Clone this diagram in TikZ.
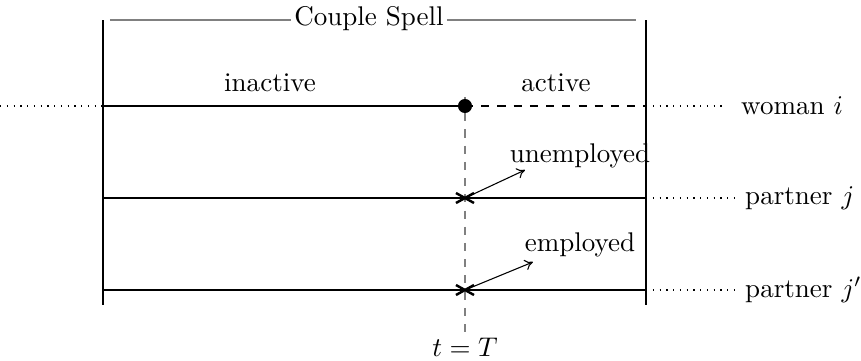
\documentclass[tikz,border=0pt]{standalone}
\usetikzlibrary{arrows.meta,calc}
\begin{document}
\begin{tikzpicture}[x=0.37pt,y=-0.37pt,
  thickline/.style={line width=1.1pt},
  dotline/.style={dotted,line width=0.5pt},
  frame/.style={line width=0.4pt},
  lbl/.style={inner sep=1pt},
  crossmark/.style={line width=0.9pt},
  callout/.style={-{To[length=3pt,width=4pt]},line width=0.4pt}]
\useasboundingbox (0,0) rectangle (861,361);
% frame
\coordinate (TL) at (103,20); \coordinate (BL) at (103,305);
\coordinate (TR) at (646,20); \coordinate (BR) at (646,305);
\draw[frame] (TL) -- (BL);
\draw[frame] (TR) -- (BR);
\node[lbl] (cs) at (369,19) {Couple Spell};
\coordinate (g1) at (110,20); \coordinate (g2) at (636,20);
\draw[gray,line width=0.6pt] (g1) -- (cs.west |- g1);
\draw[gray,line width=0.6pt] (cs.east |- g2) -- (g2);
% T line
\coordinate (Ttop) at (465,97);
\node[lbl] (tT) at (465,347) {$t=T$};
\draw[gray,dashed,line width=0.5pt] (Ttop) -- (tT.north);
% woman
\coordinate (w0) at (0,106); \coordinate (w1) at (103,106);
\coordinate (w3) at (646,106); \coordinate (w4) at (725,106);
\node[circle,fill,inner sep=0pt,minimum size=5.2pt] (wd) at (465,106) {};
\draw[dotline] (w0) -- (w1);
\draw[thickline] (w1) -- (wd.center);
\draw[thickline,dashed] (wd.center) -- (w3);
\draw[dotline] (w3) -- (w4);
\node[lbl,anchor=west] (wl) at (738,106) {woman $i$};
\node[lbl] (inact) at (270,83) {inactive};
\node[lbl] (act) at (556,83) {active};
% partner j
\coordinate (p1) at (103,198); \coordinate (p3) at (646,198); \coordinate (p4) at (735,198);
\coordinate (pc) at (465,198);
\draw[thickline] (p1) -- (p3);
\draw[dotline] (p3) -- (p4);
\node[lbl,anchor=west] (pl) at (742,198) {partner $j$};
\draw[crossmark] ($(pc)+(-9,-5)$) -- ($(pc)+(9,5)$);
\draw[crossmark] ($(pc)+(-9,5)$) -- ($(pc)+(9,-5)$);
\node[lbl] (unemp) at (580,156) {unemployed};
\coordinate (ua) at (525,170);
\draw[callout] (pc) -- (ua);
% partner j'
\coordinate (q1) at (103,290); \coordinate (q3) at (646,290); \coordinate (q4) at (735,290);
\coordinate (qc) at (465,290);
\draw[thickline] (q1) -- (q3);
\draw[dotline] (q3) -- (q4);
\node[lbl,anchor=west] (ql) at (742,290) {partner $j'$};
\draw[crossmark] ($(qc)+(-9,-5)$) -- ($(qc)+(9,5)$);
\draw[crossmark] ($(qc)+(-9,5)$) -- ($(qc)+(9,-5)$);
\node[lbl] (emp) at (580,245) {employed};
\coordinate (ea) at (533,262);
\draw[callout] (qc) -- (ea);
\end{tikzpicture}
\end{document}
